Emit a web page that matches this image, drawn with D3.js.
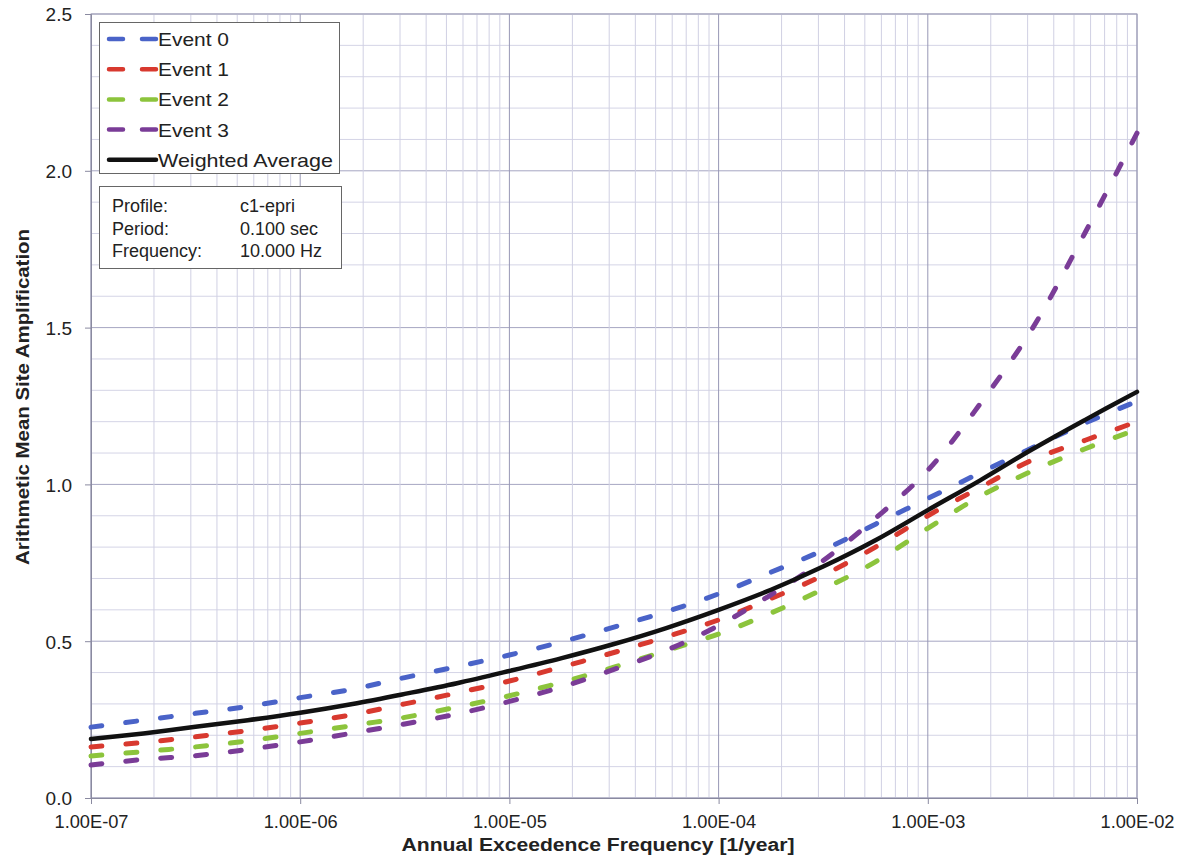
<!DOCTYPE html>
<html>
<head>
<meta charset="utf-8">
<script src="https://cdn.jsdelivr.net/npm/d3@7"></script>
<style>
  html, body { margin: 0; padding: 0; background: #fff; }
  svg { display: block; font-family: "Liberation Sans", Arial, sans-serif; }
</style>
</head>
<body>
<div id="chart"></div>
<script>
// annual exceedence frequency (x), quarter-decade steps
var freqs = [1.00e-7, 1.78e-7, 3.16e-7, 5.62e-7,
             1.00e-6, 1.78e-6, 3.16e-6, 5.62e-6,
             1.00e-5, 1.78e-5, 3.16e-5, 5.62e-5,
             1.00e-4, 1.78e-4, 3.16e-4, 5.62e-4,
             1.00e-3, 1.78e-3, 3.16e-3, 5.62e-3,
             1.00e-2];

var event0 = [0.226, 0.248, 0.270, 0.292, 0.320, 0.347, 0.384, 0.419, 0.456, 0.498, 0.545,
              0.594, 0.651, 0.720, 0.790, 0.873, 0.955, 1.037, 1.117, 1.195, 1.265];
var event1 = [0.163, 0.177, 0.195, 0.215, 0.239, 0.266, 0.300, 0.335, 0.373, 0.418, 0.464,
              0.514, 0.568, 0.636, 0.710, 0.800, 0.900, 0.990, 1.078, 1.140, 1.200];
var event2 = [0.134, 0.148, 0.163, 0.182, 0.206, 0.231, 0.257, 0.290, 0.326, 0.369, 0.417,
              0.470, 0.523, 0.590, 0.666, 0.753, 0.860, 0.962, 1.043, 1.113, 1.175];
var event3 = [0.105, 0.123, 0.135, 0.155, 0.179, 0.207, 0.236, 0.268, 0.308, 0.354, 0.410,
              0.471, 0.550, 0.648, 0.757, 0.892, 1.045, 1.257, 1.497, 1.800, 2.120];
var weighted = [0.188, 0.206, 0.227, 0.248, 0.272, 0.300, 0.332, 0.366, 0.405, 0.446, 0.491,
                0.542, 0.600, 0.664, 0.738, 0.822, 0.918, 1.013, 1.112, 1.205, 1.295];

var seriesNames  = ['Event 0', 'Event 1', 'Event 2', 'Event 3', 'Weighted Average'];
var seriesValues = [event0, event1, event2, event3, weighted];
var seriesColors = ['#4a63c8', '#d8392f', '#8cc43c', '#7a3c97', '#111111'];

var xTicks = [1e-7, 1e-6, 1e-5, 1e-4, 1e-3, 1e-2];
var xTickLabels = ['1.00E-07', '1.00E-06', '1.00E-05', '1.00E-04', '1.00E-03', '1.00E-02'];
var yTicks = [0, 0.5, 1.0, 1.5, 2.0, 2.5];

var infoLabels = ['Profile:', 'Period:', 'Frequency:'];
var infoValues = ['c1-epri', '0.100 sec', '10.000 Hz'];

var W = 1184, H = 858;
var mLeft = 91, mRight = 1137, mTop = 14, mBottom = 798;
var FONT = '"Liberation Sans", Arial, sans-serif';

var svg = d3.select('#chart').append('svg').attr('width', W).attr('height', H);

var x = d3.scaleLog().domain([1e-7, 1e-2]).range([mLeft, mRight]);
var y = d3.scaleLinear().domain([0, 2.5]).range([mBottom, mTop]);

// grid
var grid = svg.append('g');
var minorY = d3.range(0, 26).map(function(i){ return i / 10; });
grid.selectAll('line.gy').data(minorY).join('line').attr('class', 'gy')
    .attr('x1', mLeft).attr('x2', mRight)
    .attr('y1', function(d){ return y(d); }).attr('y2', function(d){ return y(d); })
    .attr('stroke', function(d){ return Math.abs(d * 2 - Math.round(d * 2)) < 1e-6 ? '#a6a6c2' : '#d4d4e6'; })
    .attr('stroke-width', 1);
var minorX = x.ticks(50);
grid.selectAll('line.gx').data(minorX).join('line').attr('class', 'gx')
    .attr('y1', mTop).attr('y2', mBottom)
    .attr('x1', function(d){ return x(d); }).attr('x2', function(d){ return x(d); })
    .attr('stroke', function(d){ return xTicks.some(function(t){ return Math.abs(t - d) / t < 1e-6; }) ? '#9898b6' : '#d0d0e3'; })
    .attr('stroke-width', 1);

svg.append('rect').attr('x', mLeft).attr('y', mTop).attr('width', mRight - mLeft).attr('height', mBottom - mTop)
    .attr('fill', 'none').attr('stroke', '#a0a0b8').attr('stroke-width', 1);

// axes
var xAxis = d3.axisBottom(x).tickValues(xTicks).tickSize(6)
    .tickFormat(function(d, i){ return xTickLabels[i]; });
var gx = svg.append('g').attr('transform', 'translate(0,' + mBottom + ')').call(xAxis);
gx.select('.domain').attr('stroke', '#8a8aa0');
gx.selectAll('.tick line').attr('stroke', '#8a8aa0');
gx.selectAll('.tick text').attr('font-size', '19px').attr('fill', '#222')
    .attr('font-family', FONT).attr('y', 30).attr('dy', null)
    .attr('textLength', 74).attr('lengthAdjust', 'spacingAndGlyphs');

var yAxis = d3.axisLeft(y).tickValues(yTicks).tickSize(6).tickFormat(d3.format('.1f'));
var gy = svg.append('g').attr('transform', 'translate(' + mLeft + ',0)').call(yAxis);
gy.select('.domain').attr('stroke', '#8a8aa0');
gy.selectAll('.tick line').attr('stroke', '#8a8aa0');
gy.selectAll('.tick text').attr('font-size', '19px').attr('fill', '#222')
    .attr('font-family', FONT).attr('x', -19).attr('dy', '0.36em');

svg.append('text').attr('x', 598).attr('y', 851).attr('text-anchor', 'middle')
    .attr('font-size', '18px').attr('font-weight', 'bold').attr('fill', '#222')
    .attr('textLength', 393).attr('lengthAdjust', 'spacingAndGlyphs')
    .text('Annual Exceedence Frequency [1/year]');
svg.append('text').attr('transform', 'translate(29,397) rotate(-90)')
    .attr('text-anchor', 'middle').attr('font-size', '18px').attr('font-weight', 'bold').attr('fill', '#222')
    .attr('textLength', 336).attr('lengthAdjust', 'spacingAndGlyphs')
    .text('Arithmetic Mean Site Amplification');

// curves
var line = d3.line()
    .x(function(d){ return x(d[0]); })
    .y(function(d){ return y(d[1]); })
    .curve(d3.curveCatmullRom.alpha(0.5));

var plot = svg.append('g');
seriesValues.forEach(function(vals, i){
    var pts = freqs.map(function(f, j){ return [f, vals[j]]; });
    var solid = i === 4;
    plot.append('path').datum(pts).attr('d', line).attr('fill', 'none')
        .attr('stroke', seriesColors[i]).attr('stroke-width', solid ? 4.5 : 5)
        .attr('stroke-linecap', 'round')
        .attr('stroke-dasharray', solid ? null : '11,24');
});

// legend
var legendWidths = [71, 71, 71, 71, 175];
var lg = svg.append('g');
lg.append('rect').attr('x', 99.5).attr('y', 22.5).attr('width', 240).attr('height', 151)
    .attr('fill', '#fff').attr('stroke', '#666').attr('stroke-width', 1);
seriesNames.forEach(function(name, i){
    var yy = 39 + i * 30.2;
    var solid = i === 4;
    lg.append('line').attr('x1', 109).attr('x2', 156).attr('y1', yy).attr('y2', yy)
        .attr('stroke', seriesColors[i]).attr('stroke-width', 4.5).attr('stroke-linecap', 'round')
        .attr('stroke-dasharray', solid ? null : '14,19');
    lg.append('text').attr('x', 158).attr('y', yy + 7).attr('font-size', '19px').attr('fill', '#222')
        .attr('textLength', legendWidths[i]).attr('lengthAdjust', 'spacingAndGlyphs')
        .text(name);
});

// info box
var ib = svg.append('g');
ib.append('rect').attr('x', 99.5).attr('y', 186.5).attr('width', 242).attr('height', 82)
    .attr('fill', '#fff').attr('stroke', '#666').attr('stroke-width', 1);
infoLabels.forEach(function(lab, i){
    var yy = 212 + i * 22.5;
    ib.append('text').attr('x', 112).attr('y', yy).attr('font-size', '18px').attr('fill', '#222').text(lab);
    ib.append('text').attr('x', 240).attr('y', yy).attr('font-size', '18px').attr('fill', '#222').text(infoValues[i]);
});
</script>
</body>
</html>
